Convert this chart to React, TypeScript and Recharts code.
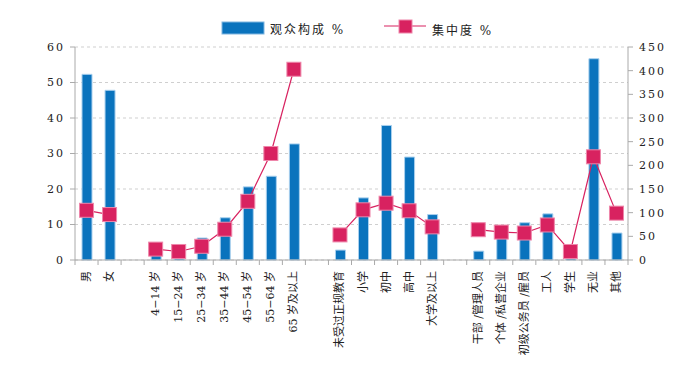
import { ComposedChart, Bar, Line, XAxis, YAxis, CartesianGrid } from "recharts";

const categories = [
  "男", "女", "",
  "4−14 岁", "15−24 岁", "25−34 岁", "35−44 岁", "45−54 岁", "55−64 岁", "65 岁及以上", "",
  "未受过正规教育", "小学", "初中", "高中", "大学及以上", "",
  "干部 /管理人员", "个体 /私营企业", "初级公务员 /雇员", "工人", "学生", "无业", "其他",
];
const audience = [52.3, 47.8, null, 3.0, 1.8, 6.2, 11.9, 20.6, 23.6, 32.7, null, 2.8, 17.5, 37.9, 29.0, 12.8, null, 2.5, 7.6, 10.5, 13.0, 1.2, 56.7, 7.6];
const concentration = [105, 96, null, 23, 18, 29, 65, 124, 225, 403, null, 53, 106, 120, 104, 70, null, 64, 59, 57, 74, 18, 218, 99];
const leftTicks = [0, 10, 20, 30, 40, 50, 60];
const rightTicks = [0, 50, 100, 150, 200, 250, 300, 350, 400, 450];

const data = categories.map((name, i) => ({ name, audience: audience[i], concentration: concentration[i] }));

const FONT = "'DejaVu Serif', 'Noto Sans CJK SC', serif";
const BLUE = "#0a73bd";
const PINK = "#d82260";
const BAND = 553 / categories.length;

function XTick(props: any) {
  const { x, y, payload, index } = props;
  const ty = y + 11;
  return (
    <g>
      <line x1={x - BAND / 2} y1={y} x2={x - BAND / 2} y2={y + 5} stroke="#aaa" />
      {index === categories.length - 1 && (
        <line x1={x + BAND / 2} y1={y} x2={x + BAND / 2} y2={y + 5} stroke="#aaa" />
      )}
      <text
        x={x}
        y={ty}
        transform={`rotate(-90, ${x}, ${ty})`}
        textAnchor="end"
        dominantBaseline="central"
        fontSize={11}
        fill="#222"
        style={{ fontFamily: FONT }}
      >
        {payload.value}
      </text>
    </g>
  );
}

function SquareDot(props: any) {
  const { cx, cy, value } = props;
  if (value == null || cx == null || cy == null) return null;
  return <rect x={cx - 7} y={cy - 7} width={14} height={14} fill={PINK} stroke="#ee86aa" strokeWidth={1} />;
}

const tickStyle = { fontSize: 11, fill: "#222", fontFamily: FONT, letterSpacing: 2 };

export default function App() {
  return (
    <div style={{ position: "absolute", left: 0, top: 0, width: 700, height: 378, background: "#fff" }}>
      <svg width={700} height={40} style={{ position: "absolute", left: 0, top: 0 }}>
        <rect x={222} y={22} width={42} height={12} fill={BLUE} stroke="#7fb6e0" />
        <text x={270} y={30} dominantBaseline="central" fontSize={12} fill="#222" style={{ fontFamily: FONT, letterSpacing: 2 }}>
          观众构成 %
        </text>
        <line x1={384} y1={26} x2={426} y2={26} stroke={PINK} strokeWidth={1.2} />
        <rect x={399} y={20} width={13} height={13} fill={PINK} stroke="#ee86aa" />
        <text x={432} y={31} dominantBaseline="central" fontSize={12} fill="#222" style={{ fontFamily: FONT, letterSpacing: 2 }}>
          集中度 %
        </text>
      </svg>
      <ComposedChart
        width={700}
        height={378}
        data={data}
        margin={{ top: 47, right: 22, bottom: 0, left: 35 }}
        style={{ position: "absolute", left: 0, top: 0 }}
      >
        <CartesianGrid yAxisId="l" vertical={false} stroke="#cfcfcf" strokeDasharray="3 3" />
        <XAxis
          dataKey="name"
          height={118}
          interval={0}
          tick={<XTick />}
          tickLine={false}
          tickSize={0}
          tickMargin={0}
          axisLine={{ stroke: "#aaa" }}
        />
        <YAxis
          yAxisId="l"
          domain={[0, 60]}
          ticks={leftTicks}
          width={40}
          tick={tickStyle}
          tickSize={5}
          tickMargin={5}
          axisLine={{ stroke: "#aaa" }}
          tickLine={{ stroke: "#aaa" }}
        />
        <YAxis
          yAxisId="r"
          orientation="right"
          domain={[0, 450]}
          ticks={rightTicks}
          width={50}
          tick={{ ...tickStyle, textAnchor: "start" }}
          tickSize={5}
          tickMargin={6}
          axisLine={{ stroke: "#aaa" }}
          tickLine={{ stroke: "#aaa" }}
        />
        <Bar yAxisId="l" dataKey="audience" fill={BLUE} stroke="#a9d0ee" strokeWidth={1} barSize={10} isAnimationActive={false} />
        <Line
          yAxisId="r"
          dataKey="concentration"
          stroke={PINK}
          strokeWidth={1.2}
          dot={<SquareDot />}
          activeDot={false}
          connectNulls={false}
          isAnimationActive={false}
        />
      </ComposedChart>
    </div>
  );
}
